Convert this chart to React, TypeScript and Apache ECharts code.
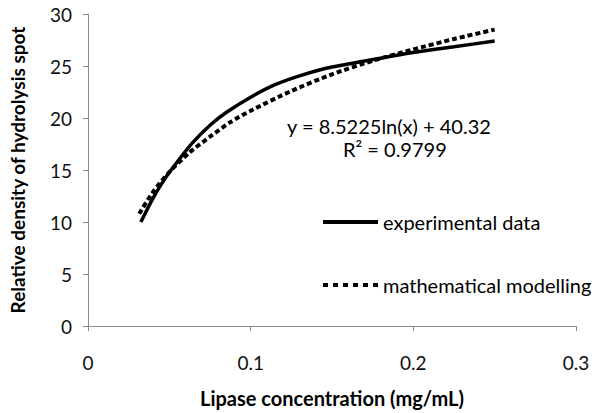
import React, { useEffect, useRef } from "react";
import * as echarts from "echarts";

const expX = [0.0325, 0.04, 0.047, 0.054, 0.0642, 0.075, 0.0847, 0.1, 0.115, 0.131, 0.15, 0.183, 0.2, 0.225, 0.25];
const expY = [10.0, 12.3, 14.1, 15.6, 17.6, 19.3, 20.5, 22.0, 23.2, 24.1, 24.9, 25.85, 26.3, 26.85, 27.4];

const modelX = [0.0315, 0.04, 0.05, 0.0625, 0.075, 0.0875, 0.1, 0.125, 0.15, 0.175, 0.2, 0.225, 0.25];
const modelY = [10.8, 12.9, 14.8, 16.7, 18.2, 19.6, 20.7, 22.6, 24.2, 25.5, 26.6, 27.6, 28.5];

const seriesNames = ["experimental data", "mathematical modelling"];
const equationText = "y = 8.5225ln(x) + 40.32";
const r2Text = "R² = 0.9799";
const xTitle = "Lipase concentration (mg/mL)";
const yTitle = "Relative density of hydrolysis spot";

const FONT = "Lato, 'Open Sans', sans-serif";

const solidIcon = "path://M0,0H55V4H0Z";
const dottedIcon =
  "path://M0,0H5V4H0Z M10,0H15V4H10Z M20,0H25V4H20Z M30,0H35V4H30Z M40,0H45V4H40Z M50,0H55V4H50Z";

export default function App() {
  const ref = useRef<HTMLDivElement>(null);
  useEffect(() => {
    if (!ref.current) return;
    const chart = echarts.init(ref.current, undefined, { renderer: "svg" });
    chart.setOption({
      animation: false,
      backgroundColor: "#ffffff",
      textStyle: { fontFamily: FONT },
      grid: { left: 87, right: 24, top: 14, bottom: 80, containLabel: false },
      xAxis: {
        type: "value",
        min: 0,
        max: 0.3,
        interval: 0.1,
        name: xTitle,
        nameLocation: "middle",
        nameGap: 62,
        nameTextStyle: { fontFamily: FONT, fontSize: 20, fontWeight: "bold", color: "#000" },
        axisLine: { show: true, lineStyle: { color: "#8c8c8c", width: 1 } },
        axisTick: { show: true, length: 5, inside: false, lineStyle: { color: "#8c8c8c" } },
        axisLabel: { fontFamily: FONT, fontSize: 19, color: "#111", margin: 27 },
        splitLine: { show: false },
      },
      yAxis: {
        type: "value",
        min: 0,
        max: 30,
        interval: 5,
        name: yTitle,
        nameLocation: "middle",
        nameGap: 61,
        nameTextStyle: { fontFamily: FONT, fontSize: 19, fontWeight: "bold", color: "#000" },
        axisLine: { show: true, lineStyle: { color: "#8c8c8c", width: 1 } },
        axisTick: { show: true, length: 5, inside: false, lineStyle: { color: "#8c8c8c" } },
        axisLabel: { fontFamily: FONT, fontSize: 19, color: "#111", margin: 16 },
        splitLine: { show: false },
      },
      legend: {
        orient: "vertical",
        left: 318,
        top: 207,
        itemWidth: 55,
        itemHeight: 4,
        itemGap: 43,
        textStyle: { fontFamily: FONT, fontSize: 20, lineHeight: 20, color: "#000" },
        data: [
          { name: seriesNames[0], icon: solidIcon, itemStyle: { color: "#000" } },
          { name: seriesNames[1], icon: dottedIcon, itemStyle: { color: "#000" } },
        ],
      },
      series: [
        {
          name: seriesNames[0],
          type: "line",
          data: expX.map((x, i) => [x, expY[i]]),
          smooth: 0.25,
          symbol: "none",
          lineStyle: { color: "#000", width: 3.5, type: "solid" },
          itemStyle: { color: "#000" },
          z: 3,
        },
        {
          name: seriesNames[1],
          type: "line",
          data: modelX.map((x, i) => [x, modelY[i]]),
          smooth: 0.25,
          symbol: "none",
          lineStyle: { color: "#000", width: 4, type: [5, 3], cap: "butt" },
          itemStyle: { color: "#000" },
          z: 2,
        },
      ],
      graphic: [
        {
          type: "text",
          left: 287,
          top: 116,
          style: { text: equationText, font: `20px ${FONT}`, fill: "#000" },
        },
        {
          type: "text",
          left: 343,
          top: 139,
          style: { text: r2Text, font: `20px ${FONT}`, fill: "#000" },
        },
      ],
    });
    return () => chart.dispose();
  }, []);
  return <div ref={ref} style={{ width: 600, height: 413, position: "absolute", left: 0, top: 0 }} />;
}
